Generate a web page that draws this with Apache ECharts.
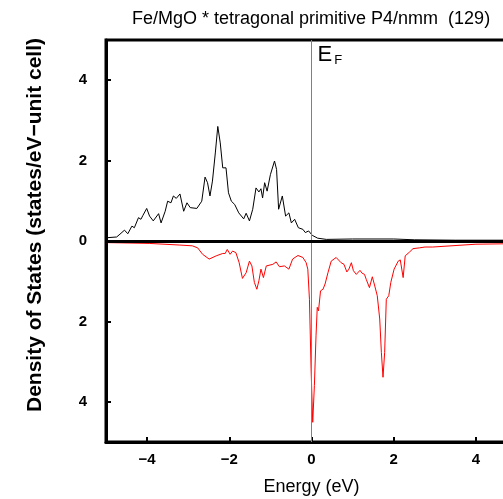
<!DOCTYPE html>
<html>
<head>
<meta charset="utf-8">
<script src="https://cdn.jsdelivr.net/npm/echarts@6/dist/echarts.min.js"></script>
<style>html,body{margin:0;padding:0;background:#fff}#c{width:503px;height:499px}</style>
</head>
<body>
<div id="c"></div>
<script>
const titleText = 'Fe/MgO * tetragonal primitive P4/nmm  (129)';
const xName = 'Energy (eV)';
const yName = 'Density of States (states/eV\u2212unit cell)';
const tickValues = [-4, -2, 0, 2, 4];
const fermiLabel = 'E';
const fermiSub = 'F';

const energyUp = [-5.0,-4.74,-4.66,-4.55,-4.47,-4.37,-4.31,-4.21,-4.15,-4.1,-4.01,-3.94,-3.85,-3.72,-3.66,-3.56,-3.5,-3.42,-3.36,-3.29,-3.2,-3.11,-3.03,-2.95,-2.79,-2.67,-2.59,-2.53,-2.47,-2.41,-2.34,-2.28,-2.22,-2.16,-2.08,-2.02,-1.95,-1.87,-1.83,-1.77,-1.65,-1.59,-1.51,-1.43,-1.35,-1.28,-1.23,-1.19,-1.14,-1.08,-1.0,-0.9,-0.85,-0.8,-0.71,-0.63,-0.55,-0.49,-0.41,-0.32,-0.21,-0.15,-0.07,0.02,0.15,0.36,1.0,2.0,2.5,3.5,5.0];
const dosUp = [0.08,0.1,0.17,0.27,0.18,0.37,0.33,0.58,0.54,0.64,0.81,0.62,0.5,0.68,0.45,0.74,0.99,0.95,1.12,1.06,1.17,0.74,0.95,0.83,0.81,0.99,1.59,1.45,1.12,1.49,2.19,2.85,2.44,1.82,1.82,1.2,0.99,0.91,0.93,0.7,0.55,0.69,0.5,0.79,1.32,1.22,1.3,1.07,1.45,1.24,1.65,1.99,1.78,0.79,1.12,0.62,0.7,0.45,0.54,0.33,0.29,0.21,0.25,0.14,0.07,0.04,0.05,0.05,0.03,0.02,0.02];

const energyDown = [-5.0,-3.95,-3.22,-2.9,-2.77,-2.65,-2.49,-2.32,-2.16,-2.1,-2.05,-1.98,-1.92,-1.84,-1.76,-1.68,-1.59,-1.51,-1.45,-1.39,-1.33,-1.28,-1.23,-1.17,-1.1,-0.94,-0.86,-0.78,-0.66,-0.55,-0.46,-0.33,-0.21,-0.13,-0.09,-0.05,-0.01,0.03,0.07,0.11,0.14,0.17,0.22,0.28,0.33,0.4,0.48,0.6,0.72,0.79,0.86,0.91,0.97,1.02,1.09,1.13,1.18,1.23,1.29,1.33,1.41,1.48,1.54,1.6,1.66,1.7,1.74,1.78,1.82,1.88,1.93,2.01,2.11,2.16,2.23,2.28,2.39,2.47,2.63,2.76,2.95,4.0,4.66,5.0];
const dosDown = [0.04,0.06,0.1,0.12,0.17,0.33,0.45,0.37,0.31,0.31,0.21,0.33,0.25,0.29,0.54,0.93,0.79,0.5,0.62,1.03,1.2,0.99,0.7,0.91,0.62,0.58,0.52,0.64,0.62,0.7,0.45,0.36,0.41,0.54,0.7,1.45,3.18,4.51,3.6,2.36,1.65,1.74,1.24,1.2,1.07,0.79,0.5,0.41,0.54,0.58,0.77,0.7,0.54,0.74,0.83,0.85,0.73,0.8,0.83,0.95,1.16,0.89,1.12,1.36,1.94,2.77,3.39,2.77,1.45,1.36,1.03,0.7,0.5,0.47,0.91,0.37,0.27,0.19,0.17,0.15,0.15,0.08,0.07,0.06];

const FONT = '"Liberation Sans", Arial, sans-serif';
const fmt = v => v < 0 ? '\u2212' + Math.abs(v) : String(v);

const chart = echarts.init(document.getElementById('c'), null, {renderer: 'canvas'});
chart.setOption({
  animation: false,
  backgroundColor: '#fff',
  title: {
    text: titleText, left: 127, top: 5,
    textStyle: {fontFamily: FONT, fontSize: 18, fontWeight: 'normal', color: '#000'}
  },
  grid: {left: 106, top: 40, width: 411, height: 402, containLabel: false, outerBoundsMode: 'none', show: true, borderColor: '#000', borderWidth: 3, backgroundColor: 'transparent'},
  xAxis: {
    type: 'value', min: -5, max: 5,
    name: xName, nameLocation: 'middle', nameGap: 36,
    nameTextStyle: {fontFamily: FONT, fontSize: 18, color: '#000'},
    axisLine: {onZero: false, lineStyle: {color: '#000', width: 3}},
    axisTick: {inside: true, length: 5, lineStyle: {color: '#000', width: 2}, customValues: tickValues},
    axisLabel: {customValues: tickValues, formatter: fmt, fontFamily: FONT, fontSize: 15, fontWeight: 'bold', color: '#000', margin: 10},
    splitLine: {show: false}
  },
  yAxis: {
    type: 'value', min: -5, max: 5,
    name: yName, nameLocation: 'middle', nameGap: 60,
    nameTextStyle: {fontFamily: FONT, fontSize: 21, fontWeight: 'bold', color: '#000', padding: [0, 0, 0, 32]},
    axisLine: {onZero: false, lineStyle: {color: '#000', width: 3}},
    axisTick: {inside: true, length: 5, lineStyle: {color: '#000', width: 2}, customValues: tickValues},
    axisLabel: {customValues: tickValues, formatter: v => String(Math.abs(v)), fontFamily: FONT, fontSize: 15, fontWeight: 'bold', color: '#000', margin: 19},
    splitLine: {show: false}
  },
  series: [
    {
      name: 'up', type: 'line', showSymbol: false, z: 3,
      data: energyUp.map((e, i) => [e, dosUp[i]]),
      lineStyle: {color: '#000', width: 1},
      markLine: {
        silent: true, symbol: 'none', label: {show: false},
        data: [
          {xAxis: 0, lineStyle: {color: '#808080', width: 1, type: 'solid'}},
          {yAxis: 0, lineStyle: {color: '#000', width: 3, type: 'solid'}}
        ]
      }
    },
    {
      name: 'down', type: 'line', showSymbol: false, z: 2,
      data: energyDown.map((e, i) => [e, -dosDown[i]]),
      lineStyle: {color: '#ff0000', width: 1}
    }
  ]
});
const p = chart.convertToPixel({gridIndex: 0}, [0, 5]);
chart.setOption({
  graphic: [{
    type: 'text', x: p[0] + 6, y: p[1] + 2, z: 10,
    style: {
      text: '{e|' + fermiLabel + '}{f|' + fermiSub + '}',
      rich: {
        e: {fontFamily: FONT, fontSize: 22, fill: '#000'},
        f: {fontFamily: FONT, fontSize: 13, fill: '#000', padding: [12, 0, 0, 2]}
      }
    }
  }]
});
</script>
</body>
</html>
